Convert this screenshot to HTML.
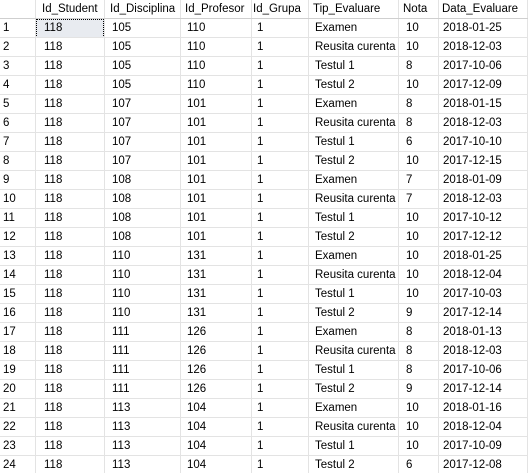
<!DOCTYPE html>
<html><head><meta charset="utf-8">
<style>
html,body{margin:0;padding:0;background:#fff;width:528px;height:473px;overflow:hidden}
#grid{position:relative;width:528px;height:473px;font-family:"Liberation Sans",Arial,sans-serif;font-size:11.5px;color:#000}
.vl{position:absolute;top:0;width:1px;height:473px;background:#e3e3e3}
.hl{position:absolute;left:0;width:528px;height:1px;background:#e3e3e3}
.t{position:absolute;white-space:nowrap;line-height:19px;height:19px}
.hdr{position:absolute;left:0;top:0;width:528px;height:19px;background:#fff}
.sel{position:absolute;left:36px;top:19px;width:66px;height:17px;background:#e8ebf0;border:1px dotted #000}
</style></head>
<body>
<div id="grid">
<div class="hdr"></div>
<div class="sel"></div>
</div>
<script>
const headers=["Id_Student","Id_Disciplina","Id_Profesor","Id_Grupa","Tip_Evaluare","Nota","Data_Evaluare"];
const rows=[
[118,105,110,1,"Examen",10,"2018-01-25"],
[118,105,110,1,"Reusita curenta",10,"2018-12-03"],
[118,105,110,1,"Testul 1",8,"2017-10-06"],
[118,105,110,1,"Testul 2",10,"2017-12-09"],
[118,107,101,1,"Examen",8,"2018-01-15"],
[118,107,101,1,"Reusita curenta",8,"2018-12-03"],
[118,107,101,1,"Testul 1",6,"2017-10-10"],
[118,107,101,1,"Testul 2",10,"2017-12-15"],
[118,108,101,1,"Examen",7,"2018-01-09"],
[118,108,101,1,"Reusita curenta",7,"2018-12-03"],
[118,108,101,1,"Testul 1",10,"2017-10-12"],
[118,108,101,1,"Testul 2",10,"2017-12-12"],
[118,110,131,1,"Examen",10,"2018-01-25"],
[118,110,131,1,"Reusita curenta",10,"2018-12-04"],
[118,110,131,1,"Testul 1",10,"2017-10-03"],
[118,110,131,1,"Testul 2",9,"2017-12-14"],
[118,111,126,1,"Examen",8,"2018-01-13"],
[118,111,126,1,"Reusita curenta",8,"2018-12-03"],
[118,111,126,1,"Testul 1",8,"2017-10-06"],
[118,111,126,1,"Testul 2",9,"2017-12-14"],
[118,113,104,1,"Examen",10,"2018-01-16"],
[118,113,104,1,"Reusita curenta",10,"2018-12-04"],
[118,113,104,1,"Testul 1",10,"2017-10-09"],
[118,113,104,1,"Testul 2",6,"2017-12-08"]
];
const g=document.getElementById('grid');
const colLines=[35,104,180,251,308,398,438,527];
const hx=[42,110,185,253,313,403,442];
const vx=[44,112,187,257,315,406,443];
const RH=19;
colLines.forEach(x=>{const d=document.createElement('div');d.className='vl';d.style.left=x+'px';


g.appendChild(d);});
for(let i=1;i<=25;i++){const d=document.createElement('div');d.className='hl';d.style.top=(i*RH-1)+'px';
if(i===1)d.style.background='#cfcfcf';


g.appendChild(d);}
function txt(s,x,y,name,inter){const d=document.createElement('div');d.className='t';d.textContent=s;d.style.left=x+'px';d.style.top=y+'px';


g.appendChild(d);}
headers.forEach((h,i)=>txt(h,hx[i],0,'column-header-'+h.toLowerCase().replace('_','-'),'true'));
rows.forEach((r,ri)=>{
 const y=(ri+1)*RH;
 txt(String(ri+1),3,y,'row-number','true');
 r.forEach((v,ci)=>txt(String(v),vx[ci],y,'cell-'+headers[ci].toLowerCase().replace('_','-'),'true'));
});
</script>
</body></html>
